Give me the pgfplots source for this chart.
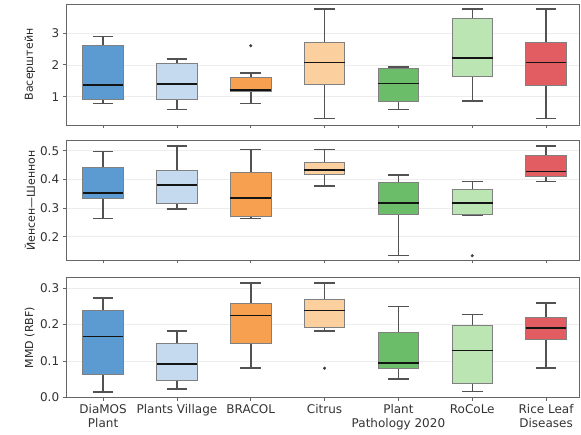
\documentclass[border=0pt]{standalone}
\usepackage{fontspec}
\setmainfont{DejaVu Sans}
\usepackage{pgfplots}
\pgfplotsset{compat=1.18}
\usepgfplotslibrary{statistics}

\definecolor{cA}{HTML}{5B9BD2}
\definecolor{cB}{HTML}{C5D9EF}
\definecolor{cC}{HTML}{F7A050}
\definecolor{cD}{HTML}{FCCF9F}
\definecolor{cE}{HTML}{6BBD69}
\definecolor{cF}{HTML}{BCE5B4}
\definecolor{cG}{HTML}{E15D61}

\pgfplotsset{
  panel/.style={
    scale only axis, width=513.1pt,
    xmin=-0.5, xmax=6.45, xtick={0,...,6},
    axis line style={black!60, line width=0.8pt},
    tick style={black!60, line width=0.8pt},
    tick align=outside, major tick length=3.5pt,
    xtick pos=left, ytick pos=left,
    ymajorgrids, major grid style={black!7, line width=0.6pt},
    ticklabel style={font=\fontsize{12}{14}\selectfont, text=black!80},
    /pgf/number format/assume math mode=true,
    every axis y label/.style={at={(axis description cs:-0.071,0.5)}, rotate=90, anchor=center, font=\fontsize{11}{13}\selectfont, text=black!85},
    boxplot/draw direction=y,
    boxplot/box extend=0.55,
    boxplot/whisker extend=0.28,
  },
  bxc/.style={
    boxplot/every box/.style={fill=#1, draw=black!50, line width=0.8pt},
    boxplot/every median/.style={draw=black!92, line width=1.6pt},
    boxplot/every whisker/.style={draw=black!68, line width=1.5pt},
    mark=*, mark size=1.3pt, mark options={fill=black!75, draw=black!75, line width=0.5pt}},
}

\begin{document}
\begin{tikzpicture}
% ---------- Wasserstein ----------
\begin{axis}[panel, at={(66.2pt,310pt)}, anchor=south west, height=121pt,
  ymin=0.11, ymax=3.91, ytick={1,2,3}, xticklabels={},
  ylabel={Васерштейн}]
\addplot[bxc=cA, boxplot prepared={draw position=0, lower whisker=0.79, lower quartile=0.90, median=1.36, upper quartile=2.60, upper whisker=2.89}] coordinates {};
\addplot[bxc=cB, boxplot prepared={draw position=1, lower whisker=0.60, lower quartile=0.90, median=1.39, upper quartile=2.03, upper whisker=2.19}] coordinates {};
\addplot[bxc=cC, boxplot prepared={draw position=2, lower whisker=0.79, lower quartile=1.18, median=1.20, upper quartile=1.61, upper whisker=1.75}] table[row sep=\\, y index=0] {data\\ 2.60\\};
\addplot[bxc=cD, boxplot prepared={draw position=3, lower whisker=0.31, lower quartile=1.37, median=2.07, upper quartile=2.71, upper whisker=3.75}] coordinates {};
\addplot[bxc=cE, boxplot prepared={draw position=4, lower whisker=0.60, lower quartile=0.84, median=1.41, upper quartile=1.90, upper whisker=1.93}] coordinates {};
\addplot[bxc=cF, boxplot prepared={draw position=5, lower whisker=0.87, lower quartile=1.63, median=2.21, upper quartile=3.45, upper whisker=3.75}] coordinates {};
\addplot[bxc=cG, boxplot prepared={draw position=6, lower whisker=0.31, lower quartile=1.35, median=2.07, upper quartile=2.71, upper whisker=3.75}] coordinates {};
\end{axis}
% ---------- Jensen-Shannon ----------
\begin{axis}[panel, at={(66.2pt,175pt)}, anchor=south west, height=119.3pt,
  ymin=0.119, ymax=0.535, ytick={0.2,0.3,0.4,0.5}, xticklabels={},
  yticklabel style={/pgf/number format/.cd, fixed, fixed zerofill, precision=1},
  ylabel={Йенсен—Шеннон}]
\addplot[bxc=cA, boxplot prepared={draw position=0, lower whisker=0.264, lower quartile=0.333, median=0.352, upper quartile=0.441, upper whisker=0.497}] coordinates {};
\addplot[bxc=cB, boxplot prepared={draw position=1, lower whisker=0.296, lower quartile=0.315, median=0.380, upper quartile=0.433, upper whisker=0.516}] coordinates {};
\addplot[bxc=cC, boxplot prepared={draw position=2, lower whisker=0.264, lower quartile=0.272, median=0.335, upper quartile=0.426, upper whisker=0.505}] coordinates {};
\addplot[bxc=cD, boxplot prepared={draw position=3, lower whisker=0.377, lower quartile=0.416, median=0.433, upper quartile=0.459, upper whisker=0.505}] coordinates {};
\addplot[bxc=cE, boxplot prepared={draw position=4, lower whisker=0.134, lower quartile=0.279, median=0.318, upper quartile=0.389, upper whisker=0.416}] coordinates {};
\addplot[bxc=cF, boxplot prepared={draw position=5, lower whisker=0.275, lower quartile=0.278, median=0.318, upper quartile=0.366, upper whisker=0.392}] table[row sep=\\, y index=0] {data\\ 0.134\\};
\addplot[bxc=cG, boxplot prepared={draw position=6, lower whisker=0.392, lower quartile=0.409, median=0.427, upper quartile=0.483, upper whisker=0.516}] coordinates {};
\end{axis}
% ---------- MMD ----------
\begin{axis}[panel, at={(66.2pt,37.7pt)}, anchor=south west, height=119.6pt,
  ymin=0, ymax=0.329, ytick={0,0.1,0.2,0.3},
  yticklabel style={/pgf/number format/.cd, fixed, fixed zerofill, precision=1},
  xticklabels={{DiaMOS\\Plant}, {Plants Village}, {BRACOL}, {Citrus}, {Plant\\Pathology 2020}, {RoCoLe}, {Rice Leaf\\Diseases}},
  xticklabel style={align=center},
  ylabel={MMD (RBF)}]
\addplot[bxc=cA, boxplot prepared={draw position=0, lower whisker=0.015, lower quartile=0.062, median=0.167, upper quartile=0.240, upper whisker=0.273}] coordinates {};
\addplot[bxc=cB, boxplot prepared={draw position=1, lower whisker=0.023, lower quartile=0.047, median=0.091, upper quartile=0.148, upper whisker=0.182}] coordinates {};
\addplot[bxc=cC, boxplot prepared={draw position=2, lower whisker=0.080, lower quartile=0.149, median=0.225, upper quartile=0.257, upper whisker=0.314}] coordinates {};
\addplot[bxc=cD, boxplot prepared={draw position=3, lower whisker=0.183, lower quartile=0.193, median=0.239, upper quartile=0.268, upper whisker=0.314}] table[row sep=\\, y index=0] {data\\ 0.080\\};
\addplot[bxc=cE, boxplot prepared={draw position=4, lower whisker=0.050, lower quartile=0.080, median=0.095, upper quartile=0.179, upper whisker=0.250}] coordinates {};
\addplot[bxc=cF, boxplot prepared={draw position=5, lower whisker=0.016, lower quartile=0.038, median=0.129, upper quartile=0.197, upper whisker=0.228}] coordinates {};
\addplot[bxc=cG, boxplot prepared={draw position=6, lower whisker=0.080, lower quartile=0.160, median=0.191, upper quartile=0.219, upper whisker=0.260}] coordinates {};
\end{axis}
\pgfresetboundingbox
\path (0pt,0pt) rectangle (581pt,435pt);
\end{tikzpicture}
\end{document}
